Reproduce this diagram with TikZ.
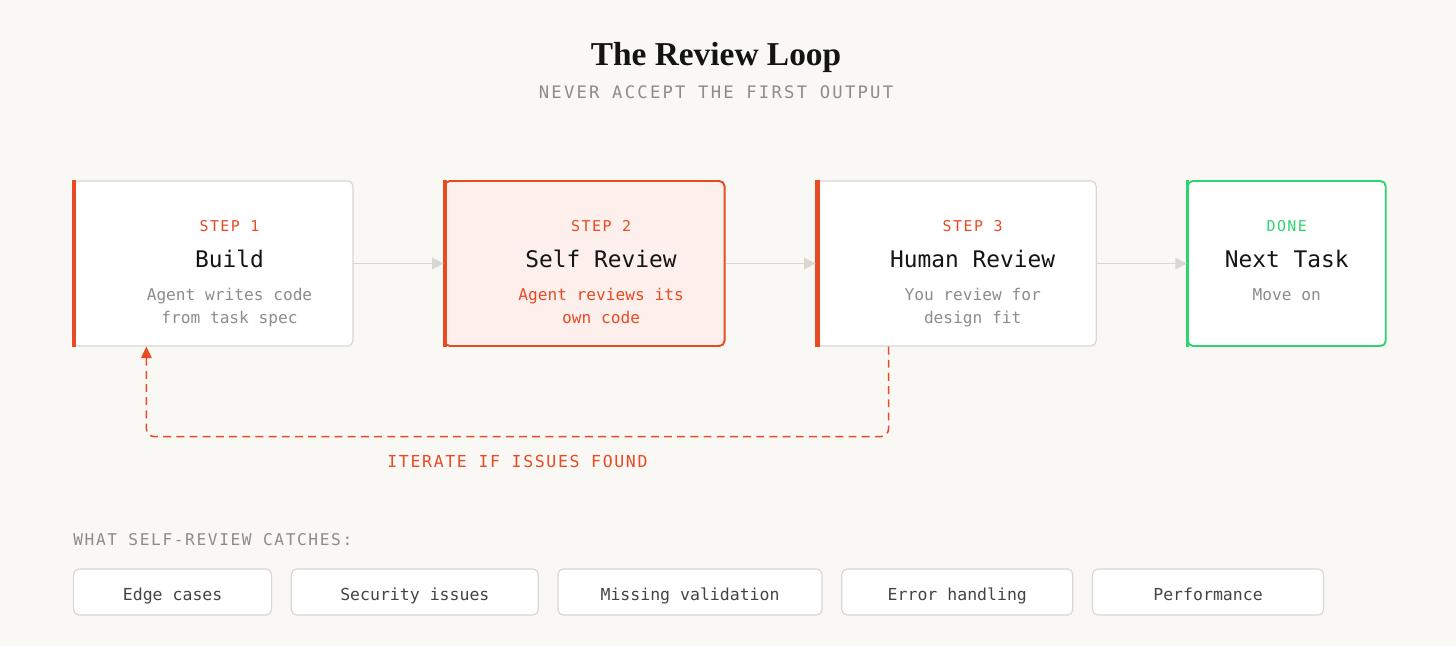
\documentclass[tikz,border=0pt]{standalone}
\usepackage{fontspec}
\usetikzlibrary{arrows.meta, positioning}
\setmainfont{DejaVu Sans Mono}
\newfontfamily\titlefont{Liberation Serif}
\newfontfamily\capsfont{DejaVu Sans Mono}[LetterSpace=10]
\newfontfamily\widecapsfont{DejaVu Sans Mono}[LetterSpace=13]
\definecolor{paper}{HTML}{F9F8F5}
\definecolor{edge}{HTML}{DAD7D1}
\definecolor{accent}{HTML}{E84A24}
\definecolor{blush}{HTML}{FDF0EC}
\definecolor{done}{HTML}{2DD46F}
\definecolor{muted}{HTML}{8C8C8C}
\definecolor{ink}{HTML}{141414}
\definecolor{chipink}{HTML}{444444}

\begin{document}
\begin{tikzpicture}[node distance=1.8cm,
  stepbox/.style={draw=edge, fill=white, line width=0.7pt, rounded corners=3pt, minimum width=5.6cm, minimum height=3.3cm},
  steplbl/.style={anchor=base, text=accent, font=\capsfont\fontsize{8.5}{10}\selectfont},
  steptitle/.style={anchor=base, text=ink, font=\fontsize{13}{16}\selectfont},
  stepdesc/.style={anchor=base, text=muted, align=center, font=\fontsize{9.2}{13}\selectfont},
  flow/.style={draw=edge, line width=0.85pt, -{Triangle[length=6.5pt, width=6.5pt]}},
  chip/.style={draw=edge, fill=white, line width=0.7pt, rounded corners=3pt, minimum height=0.92cm, text height=11.5pt, text depth=2pt, text=chipink, font=\fontsize{9.4}{11}\selectfont}]
\fill[paper] (0,0) rectangle (29.12,12.92);
\useasboundingbox (0,0) rectangle (29.12,12.92);

% heading
\node[font=\titlefont\bfseries\fontsize{19}{22}\selectfont, text=ink, anchor=base] (title) at (14.32,11.6) {The Review Loop};
\node[font=\widecapsfont\fontsize{9.8}{12}\selectfont, text=muted, anchor=base] (sub) at (14.32,10.94) {NEVER ACCEPT THE FIRST OUTPUT};

% the four stages
\node[stepbox] (b1) at (4.26,7.65) {};
\node[stepbox, right=of b1, draw=accent, fill=blush, line width=1.1pt] (b2) {};
\node[stepbox, right=of b2] (b3) {};
\node[stepbox, right=of b3, minimum width=3.96cm, draw=done, line width=1.1pt] (b4) {};

\draw[accent, line width=2.3pt] ([xshift=1.1pt]b1.north west) -- ([xshift=1.1pt]b1.south west);
\draw[accent, line width=2.3pt] ([xshift=0.6pt]b2.north west) -- ([xshift=0.6pt]b2.south west);
\draw[accent, line width=2.3pt] ([xshift=1.1pt]b3.north west) -- ([xshift=1.1pt]b3.south west);
\draw[done, line width=1.8pt] ([xshift=0.4pt]b4.north west) -- ([xshift=0.4pt]b4.south west);

\node[steplbl] (s1) at ([xshift=0.33cm, yshift=0.65cm]b1.center) {STEP 1};
\node[steptitle] (h1) at ([xshift=0.33cm, yshift=-0.07cm]b1.center) {Build};
\node[stepdesc] (d1) at ([xshift=0.33cm, yshift=-1.19cm]b1.center) {Agent writes code\\from task spec};

\node[steplbl] (s2) at ([xshift=0.33cm, yshift=0.65cm]b2.center) {STEP 2};
\node[steptitle] (h2) at ([xshift=0.33cm, yshift=-0.07cm]b2.center) {Self Review};
\node[stepdesc, text=accent] (d2) at ([xshift=0.33cm, yshift=-1.19cm]b2.center) {Agent reviews its\\own code};

\node[steplbl] (s3) at ([xshift=0.33cm, yshift=0.65cm]b3.center) {STEP 3};
\node[steptitle] (h3) at ([xshift=0.33cm, yshift=-0.07cm]b3.center) {Human Review};
\node[stepdesc] (d3) at ([xshift=0.33cm, yshift=-1.19cm]b3.center) {You review for\\design fit};

\node[steplbl, text=done] (s4) at ([yshift=0.65cm]b4.center) {DONE};
\node[steptitle] (h4) at ([yshift=-0.07cm]b4.center) {Next Task};
\node[stepdesc] (d4) at ([yshift=-0.73cm]b4.center) {Move on};

\draw[flow] (b1) -- (b2);
\draw[flow] (b2) -- (b3);
\draw[flow] (b3) -- (b4);

% loop back
\coordinate (loopR) at ([xshift=1.46cm]b3.south west);
\coordinate (loopL) at ([xshift=1.48cm]b1.south west);
\draw[accent, line width=0.85pt, dash pattern=on 4.5pt off 3pt, rounded corners=4.5pt,
      -{Triangle[length=6.5pt, width=6pt]}]
  (loopR) -- ++(0,-1.8) -| node[pos=0.25, below=7pt, font=\capsfont\fontsize{9.4}{11}\selectfont, text=accent] (iter) {ITERATE IF ISSUES FOUND} (loopL);

% what self-review catches
\node[anchor=base west, inner sep=0pt, font=\capsfont\fontsize{9.2}{11}\selectfont, text=muted] (catch) at (1.46,2.02) {WHAT SELF-REVIEW CATCHES:};
\node[chip, minimum width=3.96cm, anchor=west] (c1) at (1.46,1.08) {Edge cases};
\node[chip, minimum width=4.94cm, right=0.37cm of c1] (c2) {Security issues};
\node[chip, minimum width=5.28cm, right=0.37cm of c2] (c3) {Missing validation};
\node[chip, minimum width=4.62cm, right=0.37cm of c3] (c4) {Error handling};
\node[chip, minimum width=4.62cm, right=0.37cm of c4] (c5) {Performance};
\end{tikzpicture}
\end{document}
